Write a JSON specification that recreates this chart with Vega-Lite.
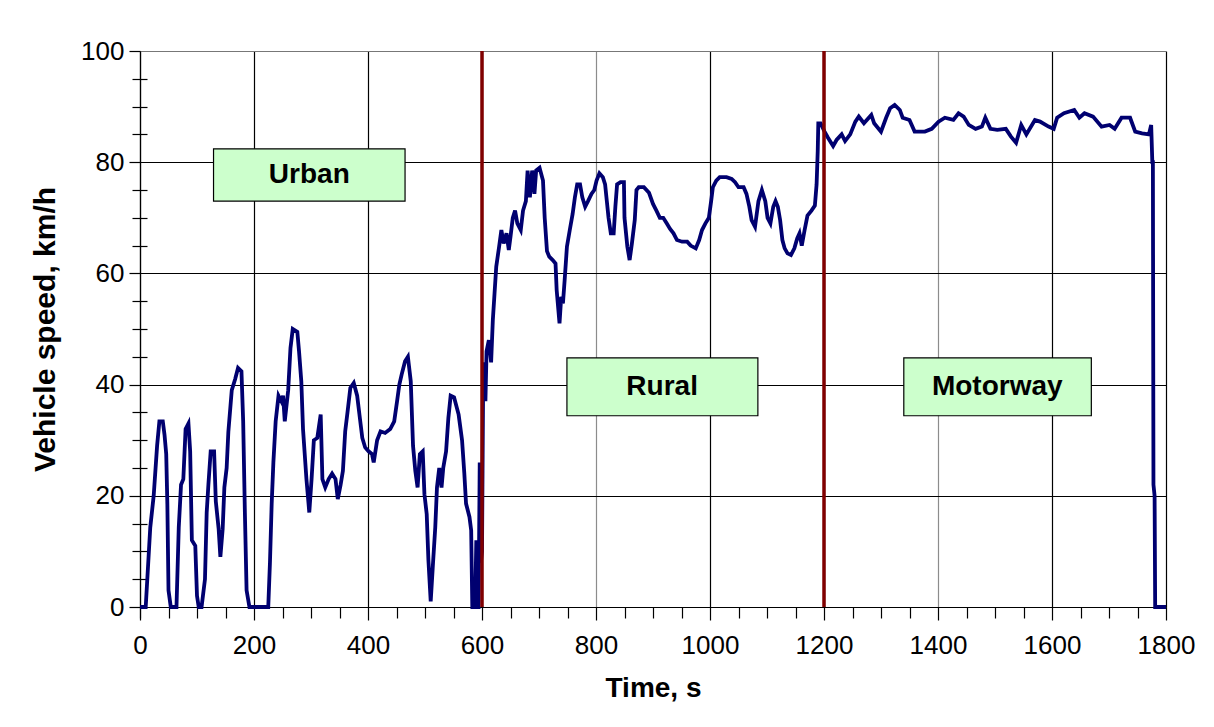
{
  "$schema": "https://vega.github.io/schema/vega-lite/v6.json",
  "width": 1026,
  "height": 556,
  "autosize": {"type": "none"},
  "padding": {"left": 140, "top": 51, "right": 48, "bottom": 120},
  "background": "white",
  "config": {"view": {"stroke": null}, "font": "Liberation Sans"},
  "datasets": {
    "speed": [
      {"t":0,"v":0},{"t":10,"v":0},{"t":18,"v":14.3},{"t":24,"v":20},{"t":30,"v":29},{"t":34,"v":33.4},{"t":40,"v":33.4},{"t":43,"v":31},{"t":46,"v":27.5},{"t":48,"v":18.5},{"t":50,"v":3},{"t":54,"v":0},{"t":64,"v":0},{"t":68,"v":14.3},{"t":72,"v":22},{"t":76,"v":23},{"t":80,"v":32},{"t":85,"v":33},{"t":88,"v":28},{"t":91,"v":12},{"t":97,"v":11},{"t":100,"v":2},{"t":103,"v":0},{"t":108,"v":0},{"t":114,"v":5},{"t":117,"v":17},{"t":120,"v":22},{"t":124,"v":28},{"t":130,"v":28},{"t":133,"v":19},{"t":138,"v":14},{"t":141,"v":9},{"t":145,"v":14},{"t":148,"v":21.5},{"t":152,"v":25},{"t":155,"v":31.5},{"t":161,"v":39},{"t":167,"v":41},{"t":172,"v":43},{"t":178,"v":42.4},{"t":181,"v":33.4},{"t":184,"v":17},{"t":187,"v":3},{"t":192,"v":0},{"t":225,"v":0},{"t":228,"v":8},{"t":231,"v":18.5},{"t":234,"v":26},{"t":238,"v":33.4},{"t":243,"v":38},{"t":248,"v":37},{"t":251,"v":38},{"t":254,"v":33.4},{"t":260,"v":39},{"t":264,"v":46.6},{"t":268,"v":50},{"t":276,"v":49.5},{"t":279,"v":46},{"t":283,"v":40.6},{"t":286,"v":32},{"t":292,"v":23},{"t":297,"v":17},{"t":301,"v":23},{"t":305,"v":30},{"t":311,"v":30.4},{"t":317,"v":34.6},{"t":320,"v":23},{"t":325,"v":21.5},{"t":331,"v":23},{"t":337,"v":24},{"t":343,"v":23},{"t":347,"v":19.4},{"t":352,"v":22},{"t":356,"v":24.5},{"t":360,"v":31.6},{"t":364,"v":35},{"t":369,"v":39.4},{"t":375,"v":40.3},{"t":381,"v":38},{"t":385,"v":34.6},{"t":390,"v":30.4},{"t":395,"v":28.7},{"t":401,"v":28},{"t":407,"v":27.5},{"t":410,"v":26},{"t":416,"v":30},{"t":422,"v":31.6},{"t":430,"v":31.3},{"t":439,"v":32},{"t":446,"v":33.4},{"t":451,"v":37},{"t":455,"v":40},{"t":459,"v":41.8},{"t":465,"v":44.2},{"t":470,"v":45},{"t":475,"v":40.6},{"t":479,"v":29},{"t":483,"v":24.5},{"t":487,"v":21.5},{"t":491,"v":27.5},{"t":496,"v":28},{"t":499,"v":20.3},{"t":503,"v":16.7},{"t":506,"v":8.4},{"t":510,"v":1},{"t":514,"v":7.8},{"t":518,"v":14.3},{"t":521,"v":21.5},{"t":525,"v":25},{"t":529,"v":21.5},{"t":532,"v":25},{"t":537,"v":28},{"t":541,"v":34},{"t":545,"v":38},{"t":551,"v":37.7},{"t":559,"v":34.6},{"t":565,"v":30},{"t":569,"v":24},{"t":572,"v":18.6},{"t":578,"v":16.2},{"t":581,"v":13.8},{"t":583,"v":0},{"t":588,"v":0},{"t":590,"v":12},{"t":592,"v":0},{"t":594,"v":0},{"t":596,"v":26},{"t":598,"v":8},{"t":600,"v":10},{"t":602,"v":40},{"t":604,"v":44},{"t":606,"v":37},{"t":608,"v":46},{"t":612,"v":48},{"t":616,"v":44},{"t":619,"v":51.6},{"t":622,"v":56.4},{"t":625,"v":61.2},{"t":630,"v":64.8},{"t":634,"v":67.8},{"t":638,"v":65.4},{"t":643,"v":67.2},{"t":647,"v":64.2},{"t":650,"v":66.6},{"t":654,"v":70},{"t":658,"v":71.3},{"t":662,"v":69},{"t":668,"v":67.8},{"t":672,"v":71.3},{"t":677,"v":73},{"t":680,"v":78.5},{"t":684,"v":73.7},{"t":688,"v":78.5},{"t":692,"v":74.3},{"t":695,"v":78.5},{"t":701,"v":79},{"t":707,"v":76.7},{"t":710,"v":70},{"t":714,"v":64},{"t":718,"v":63},{"t":724,"v":62.4},{"t":729,"v":61.8},{"t":731,"v":57},{"t":736,"v":51},{"t":739,"v":55.8},{"t":742,"v":54.6},{"t":745,"v":58.8},{"t":749,"v":64.8},{"t":754,"v":67.8},{"t":759,"v":70.7},{"t":763,"v":73.7},{"t":767,"v":76},{"t":772,"v":76},{"t":776,"v":73.7},{"t":781,"v":72},{"t":786,"v":73},{"t":792,"v":74.3},{"t":797,"v":75},{"t":801,"v":76.7},{"t":806,"v":78},{"t":812,"v":77.3},{"t":816,"v":76},{"t":819,"v":73},{"t":822,"v":70},{"t":826,"v":67.2},{"t":831,"v":67.2},{"t":834,"v":72},{"t":837,"v":76},{"t":843,"v":76.4},{"t":849,"v":76.4},{"t":850,"v":70},{"t":855,"v":64.8},{"t":859,"v":62.4},{"t":863,"v":65.4},{"t":868,"v":69.6},{"t":871,"v":75},{"t":875,"v":75.5},{"t":884,"v":75.5},{"t":893,"v":74.5},{"t":900,"v":72.5},{"t":906,"v":71.3},{"t":912,"v":70},{"t":918,"v":70},{"t":924,"v":69},{"t":930,"v":68},{"t":936,"v":67.2},{"t":942,"v":66},{"t":951,"v":65.7},{"t":960,"v":65.7},{"t":966,"v":65},{"t":975,"v":64.5},{"t":981,"v":66},{"t":986,"v":67.8},{"t":992,"v":69},{"t":998,"v":70},{"t":1002,"v":73},{"t":1005,"v":75.5},{"t":1011,"v":76.7},{"t":1017,"v":77.3},{"t":1029,"v":77.3},{"t":1038,"v":77},{"t":1044,"v":76.4},{"t":1050,"v":75.5},{"t":1059,"v":75.5},{"t":1064,"v":74.3},{"t":1069,"v":72},{"t":1073,"v":69.6},{"t":1079,"v":68.4},{"t":1085,"v":73},{"t":1091,"v":75},{"t":1097,"v":73},{"t":1101,"v":70},{"t":1106,"v":69},{"t":1111,"v":72},{"t":1115,"v":73},{"t":1119,"v":72},{"t":1123,"v":69.6},{"t":1127,"v":66},{"t":1131,"v":64.5},{"t":1136,"v":63.6},{"t":1142,"v":63.3},{"t":1148,"v":64.5},{"t":1153,"v":66.3},{"t":1157,"v":67.2},{"t":1161,"v":65},{"t":1166,"v":67.8},{"t":1171,"v":70.4},{"t":1178,"v":71.3},{"t":1184,"v":72.2},{"t":1187,"v":76},{"t":1189,"v":82},{"t":1190,"v":87},{"t":1194,"v":87},{"t":1201,"v":85.5},{"t":1207,"v":84.4},{"t":1216,"v":82.9},{"t":1222,"v":84},{"t":1231,"v":85},{"t":1237,"v":83.8},{"t":1246,"v":85},{"t":1255,"v":87.3},{"t":1261,"v":88.2},{"t":1270,"v":87},{"t":1283,"v":88.5},{"t":1288,"v":87},{"t":1300,"v":85.5},{"t":1309,"v":88},{"t":1316,"v":89.7},{"t":1324,"v":90.3},{"t":1333,"v":89.4},{"t":1338,"v":88},{"t":1350,"v":87.6},{"t":1359,"v":85.5},{"t":1377,"v":85.5},{"t":1389,"v":86},{"t":1401,"v":87.3},{"t":1412,"v":88},{"t":1427,"v":87.6},{"t":1436,"v":88.8},{"t":1445,"v":88.2},{"t":1454,"v":86.7},{"t":1466,"v":86},{"t":1477,"v":86.4},{"t":1483,"v":88},{"t":1492,"v":86},{"t":1504,"v":85.8},{"t":1519,"v":86},{"t":1528,"v":84.6},{"t":1537,"v":83.5},{"t":1546,"v":86.7},{"t":1555,"v":85},{"t":1570,"v":87.6},{"t":1579,"v":87.3},{"t":1594,"v":86.4},{"t":1603,"v":86},{"t":1609,"v":88},{"t":1621,"v":88.8},{"t":1639,"v":89.4},{"t":1648,"v":88},{"t":1657,"v":88.8},{"t":1672,"v":88.2},{"t":1687,"v":86.4},{"t":1701,"v":86.7},{"t":1710,"v":86},{"t":1722,"v":88},{"t":1737,"v":88},{"t":1746,"v":85.5},{"t":1758,"v":85.2},{"t":1770,"v":85},{"t":1774,"v":86.7},{"t":1776,"v":80},{"t":1777,"v":80},{"t":1778,"v":22},{"t":1780,"v":20},{"t":1781,"v":0},{"t":1800,"v":0}
    ],
    "phases": [{"t": 600}, {"t": 1200}],
    "boxes": [
      {"label": "Urban", "t1": 129, "t2": 465, "v1": 73, "v2": 82.4, "tc": 297, "vc": 77.7},
      {"label": "Rural", "t1": 749, "t2": 1084, "v1": 34.4, "v2": 44.8, "tc": 916, "vc": 39.6},
      {"label": "Motorway", "t1": 1340, "t2": 1669, "v1": 34.4, "v2": 44.8, "tc": 1504, "vc": 39.6}
    ]
  },
  "resolve": {"axis": {"x": "independent", "y": "independent"}},
  "layer": [
    {
      "data": {"name": "speed"},
      "mark": {"type": "line", "color": "#000070", "strokeWidth": 3.8, "strokeJoin": "miter"},
      "encoding": {
        "x": {"field": "t", "type": "quantitative", "scale": {"domain": [0, 1800], "nice": false},
          "axis": {"orient": "bottom", "values": [0,200,400,600,800,1000,1200,1400,1600,1800], "format": "d", "title": "Time, s",
            "grid": true, "gridColor": {"condition": {"test": "datum.value === 800 || datum.value === 1400", "value": "#8c8c8c"}, "value": "#000000"}, "gridWidth": 1.2, "gridOpacity": 1,
            "domainColor": "#000000", "domainWidth": 1.2, "tickColor": "#000000", "tickSize": 13, "tickWidth": 1.2,
            "labelFont": "Liberation Sans", "labelFontSize": 26, "labelColor": "#000000", "labelPadding": 12, "labelFlush": false,
            "titleFont": "Liberation Sans", "titleFontSize": 28, "titleFontWeight": "bold", "titleColor": "#000000", "titlePadding": 16}},
        "y": {"field": "v", "type": "quantitative", "scale": {"domain": [0, 100], "nice": false},
          "axis": {"orient": "left", "values": [0,20,40,60,80,100], "title": "Vehicle speed, km/h",
            "grid": true, "gridColor": {"condition": {"test": "datum.value === 100", "value": "#777777"}, "value": "#000000"}, "gridWidth": 1.2, "gridOpacity": 1,
            "domainColor": "#000000", "domainWidth": 1.2, "tickColor": "#000000", "tickSize": 11, "tickWidth": 1.2,
            "labelFont": "Liberation Sans", "labelFontSize": 26, "labelColor": "#000000", "labelPadding": 5, "labelFlush": false,
            "titleFont": "Liberation Sans", "titleFontSize": 30, "titleFontWeight": "bold", "titleColor": "#000000", "titlePadding": 20}}
      }
    },
    {
      "data": {"name": "phases"},
      "mark": {"type": "rule", "color": "#800000", "strokeWidth": 3.5},
      "encoding": {
        "x": {"field": "t", "type": "quantitative",
          "axis": {"orient": "bottom", "values": [0,50,100,150,250,300,350,450,500,550,650,700,750,850,900,950,1050,1100,1150,1250,1300,1350,1450,1500,1550,1650,1700,1750],
            "labels": false, "grid": false, "domain": false, "title": null, "tickColor": "#000000", "tickSize": 11, "tickWidth": 1.2}}
      }
    },
    {
      "data": {"name": "boxes"},
      "mark": {"type": "rect", "fill": "#ccffcc", "stroke": "#000000", "strokeWidth": 1.2},
      "encoding": {
        "x": {"field": "t1", "type": "quantitative", "axis": null},
        "x2": {"field": "t2"},
        "y": {"field": "v1", "type": "quantitative",
          "axis": {"orient": "left", "values": [5,10,15,25,30,35,45,50,55,65,70,75,85,90,95], "labels": false, "grid": false, "domain": false, "title": null, "tickColor": "#000000", "tickSize": 8, "tickWidth": 1.2}},
        "y2": {"field": "v2"}
      }
    },
    {
      "data": {"name": "boxes"},
      "mark": {"type": "text", "font": "Liberation Sans", "fontSize": 28, "fontWeight": "bold", "color": "#000000", "align": "center", "baseline": "middle"},
      "encoding": {
        "x": {"field": "tc", "type": "quantitative", "axis": null},
        "y": {"field": "vc", "type": "quantitative",
          "axis": {"orient": "left", "values": [5,10,15,25,30,35,45,50,55,65,70,75,85,90,95], "labels": false, "grid": false, "domain": false, "title": null, "tickColor": "#000000", "tickSize": -7, "tickWidth": 1.2}},
        "text": {"field": "label"}
      }
    }
  ]
}
